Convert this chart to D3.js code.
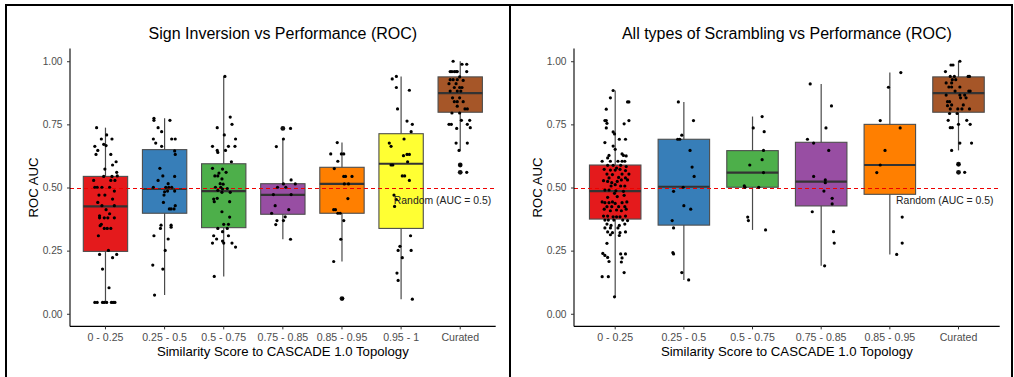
<!DOCTYPE html>
<html>
<head>
<meta charset="utf-8">
<script src="https://cdn.jsdelivr.net/npm/d3@7"></script>
<style>
  body { margin: 0; background: #fff; }
  svg { display: block; font-family: "Liberation Sans", Arial, sans-serif; }
</style>
</head>
<body>
<svg id="chart" width="1014" height="377"></svg>
<script>
// ---- data ----
const catColors = {
  '0 - 0.25': '#E41A1C', '0.25 - 0.5': '#377EB8', '0.5 - 0.75': '#4DAF4A',
  '0.75 - 0.85': '#984EA3', '0.85 - 0.95': '#FF7F00', '0.95 - 1': '#FFFF33', 'Curated': '#A65628'
};

// Sign inversion panel
const leftCats = ['0 - 0.25', '0.25 - 0.5', '0.5 - 0.75', '0.75 - 0.85', '0.85 - 0.95', '0.95 - 1', 'Curated'];
const leftQ1  = [0.247, 0.398, 0.341, 0.394, 0.398, 0.338, 0.798];
const leftMed = [0.425, 0.494, 0.486, 0.471, 0.514, 0.594, 0.874];
const leftQ3  = [0.544, 0.650, 0.594, 0.515, 0.580, 0.713, 0.938];
const leftLo  = [0.045, 0.074, 0.148, 0.295, 0.207, 0.058, 0.647];
const leftHi  = [0.737, 0.774, 0.940, 0.692, 0.678, 0.940, 1.000];
// jittered points: [offset in category units, ROC AUC]
const leftPoints = [
  [[-0.15,0.737],[0.02,0.708],[-0.07,0.692],[0.11,0.692],[-0.03,0.671],[0.01,0.666],[-0.18,0.663],[-0.13,0.647],[-0.16,0.631],[0.09,0.631],[0.18,0.602],[0.12,0.589],[-0.01,0.573],[0.19,0.560],[-0.03,0.544],[0.11,0.544],[0.20,0.546],[-0.20,0.528],[0.09,0.528],[0.16,0.528],[-0.18,0.501],[-0.14,0.501],[-0.06,0.501],[0.07,0.501],[0.15,0.486],[-0.11,0.470],[-0.01,0.470],[0.12,0.454],[-0.13,0.441],[-0.06,0.428],[0.15,0.428],[0.01,0.412],[0.07,0.396],[-0.10,0.388],[-0.10,0.380],[-0.02,0.380],[0.04,0.380],[0.15,0.380],[-0.07,0.354],[-0.09,0.349],[-0.02,0.338],[0.03,0.338],[0.09,0.338],[-0.12,0.309],[0.05,0.251],[-0.10,0.235],[0.19,0.235],[0.12,0.222],[-0.05,0.177],[0.06,0.103],[-0.18,0.045],[-0.14,0.045],[-0.05,0.045],[-0.02,0.045],[0.02,0.045],[0.10,0.045],[0.13,0.045],[0.16,0.045]],
  [[-0.18,0.774],[-0.18,0.766],[0.09,0.766],[-0.11,0.737],[-0.05,0.721],[-0.19,0.692],[-0.15,0.676],[-0.05,0.663],[0.12,0.692],[0.18,0.692],[0.17,0.645],[0.18,0.631],[-0.08,0.576],[-0.03,0.546],[0.17,0.544],[-0.11,0.528],[0.06,0.515],[-0.19,0.501],[0.02,0.501],[0.07,0.501],[0.12,0.501],[0.00,0.483],[0.05,0.486],[0.17,0.486],[-0.01,0.470],[-0.02,0.441],[0.08,0.415],[0.11,0.415],[0.16,0.415],[0.18,0.428],[-0.06,0.351],[-0.07,0.338],[0.11,0.351],[0.11,0.343],[-0.18,0.309],[0.06,0.296],[0.01,0.251],[-0.20,0.193],[-0.03,0.177],[-0.17,0.074]],
  [[0.02,0.940],[0.11,0.779],[0.14,0.750],[-0.11,0.737],[0.01,0.708],[0.20,0.692],[0.08,0.663],[0.19,0.663],[-0.19,0.663],[-0.11,0.647],[-0.10,0.639],[0.03,0.647],[0.13,0.602],[-0.19,0.576],[-0.02,0.573],[-0.08,0.557],[0.04,0.560],[-0.15,0.546],[-0.10,0.546],[-0.03,0.534],[-0.06,0.515],[-0.01,0.513],[-0.14,0.501],[-0.05,0.501],[-0.10,0.489],[-0.02,0.494],[0.06,0.496],[0.11,0.481],[-0.03,0.481],[-0.17,0.454],[-0.16,0.444],[-0.11,0.457],[0.10,0.444],[-0.03,0.404],[0.10,0.383],[0.00,0.354],[0.08,0.354],[-0.10,0.338],[0.06,0.338],[-0.02,0.325],[-0.17,0.309],[-0.12,0.296],[0.08,0.309],[-0.02,0.288],[0.00,0.280],[-0.19,0.280],[0.14,0.280],[0.20,0.264],[-0.16,0.148]],
  [[0.13,0.734],[0.01,0.692],[-0.11,0.662],[0.14,0.530],[0.21,0.514],[0.01,0.514],[-0.09,0.501],[0.05,0.501],[-0.16,0.472],[0.14,0.472],[-0.13,0.428],[0.10,0.412],[-0.19,0.398],[0.04,0.384],[-0.10,0.369],[0.01,0.369],[-0.12,0.353],[0.13,0.295]],
  [[-0.08,0.678],[-0.19,0.633],[-0.01,0.633],[0.03,0.633],[-0.07,0.604],[-0.13,0.575],[0.03,0.544],[0.06,0.544],[0.17,0.544],[0.04,0.514],[0.11,0.514],[0.10,0.456],[-0.14,0.412],[-0.11,0.412],[-0.07,0.398],[-0.03,0.398],[0.03,0.369],[-0.02,0.295],[-0.14,0.207],[0.01,0.060]],
  [[-0.15,0.930],[-0.08,0.940],[-0.08,0.896],[0.14,0.885],[-0.06,0.811],[0.10,0.763],[0.19,0.750],[0.17,0.721],[0.05,0.692],[-0.20,0.676],[-0.17,0.663],[0.10,0.631],[0.14,0.631],[0.04,0.626],[0.11,0.602],[-0.17,0.589],[-0.14,0.589],[0.02,0.546],[0.06,0.546],[0.14,0.528],[-0.12,0.470],[-0.08,0.452],[-0.11,0.425],[0.16,0.309],[-0.02,0.267],[-0.05,0.251],[0.02,0.222],[0.17,0.251],[-0.07,0.161],[-0.05,0.132],[0.19,0.058]],
  [[-0.12,1.000],[0.03,0.988],[0.11,0.988],[-0.17,0.959],[-0.14,0.959],[-0.10,0.959],[-0.07,0.959],[-0.05,0.959],[0.11,0.959],[-0.01,0.938],[-0.17,0.927],[-0.12,0.927],[-0.05,0.927],[0.05,0.924],[-0.19,0.911],[-0.07,0.911],[-0.01,0.896],[-0.10,0.896],[0.03,0.896],[-0.05,0.882],[0.01,0.882],[-0.17,0.882],[-0.13,0.855],[-0.01,0.855],[-0.05,0.840],[-0.10,0.840],[0.05,0.840],[-0.05,0.822],[0.08,0.811],[0.12,0.811],[-0.14,0.795],[-0.01,0.795],[0.16,0.766],[-0.19,0.750],[-0.15,0.750],[0.02,0.766],[0.12,0.750],[-0.06,0.734],[0.17,0.737],[-0.07,0.676],[0.12,0.676],[-0.02,0.647],[0.00,0.589],[0.11,0.560]]
];

// All types of scrambling panel
const rightCats = ['0 - 0.25', '0.25 - 0.5', '0.5 - 0.75', '0.75 - 0.85', '0.85 - 0.95', 'Curated'];
const rightQ1  = [0.375, 0.351, 0.501, 0.427, 0.473, 0.798];
const rightMed = [0.486, 0.503, 0.559, 0.523, 0.589, 0.874];
const rightQ3  = [0.589, 0.691, 0.646, 0.679, 0.750, 0.938];
const rightLo  = [0.067, 0.134, 0.332, 0.190, 0.235, 0.647];
const rightHi  = [0.884, 0.839, 0.781, 0.910, 0.955, 1.000];
const rightPoints = [
  [[-0.03,0.884],[-0.07,0.855],[0.18,0.839],[0.20,0.839],[-0.13,0.810],[-0.15,0.765],[-0.13,0.765],[-0.12,0.754],[0.13,0.752],[0.20,0.765],[-0.13,0.736],[-0.03,0.720],[-0.01,0.712],[0.06,0.691],[0.15,0.691],[-0.15,0.678],[-0.03,0.664],[0.00,0.651],[0.10,0.633],[0.12,0.627],[0.16,0.625],[-0.09,0.627],[-0.11,0.617],[-0.19,0.604],[-0.07,0.604],[0.04,0.604],[0.10,0.604],[0.14,0.604],[-0.11,0.588],[-0.03,0.588],[0.02,0.577],[0.08,0.588],[0.16,0.583],[-0.16,0.572],[-0.07,0.569],[0.00,0.569],[0.07,0.572],[0.15,0.567],[-0.12,0.553],[-0.04,0.551],[0.10,0.553],[0.20,0.553],[-0.09,0.538],[0.05,0.540],[0.15,0.538],[-0.17,0.527],[-0.11,0.524],[-0.05,0.519],[0.03,0.524],[0.09,0.530],[0.18,0.530],[-0.06,0.506],[0.00,0.511],[0.08,0.506],[0.14,0.506],[-0.15,0.490],[-0.09,0.490],[0.01,0.487],[0.12,0.485],[-0.01,0.477],[-0.11,0.461],[0.13,0.469],[0.03,0.464],[-0.19,0.443],[-0.15,0.440],[-0.09,0.440],[-0.04,0.443],[0.00,0.437],[0.10,0.440],[0.17,0.443],[-0.12,0.424],[-0.05,0.424],[0.05,0.424],[0.14,0.424],[-0.16,0.414],[-0.07,0.408],[0.02,0.411],[0.09,0.408],[0.16,0.414],[-0.17,0.387],[-0.11,0.387],[-0.03,0.384],[0.02,0.384],[0.07,0.384],[0.15,0.387],[-0.15,0.371],[-0.10,0.371],[-0.02,0.371],[0.11,0.371],[0.18,0.369],[-0.12,0.355],[-0.06,0.350],[0.06,0.350],[0.14,0.355],[-0.15,0.340],[-0.07,0.340],[0.04,0.340],[-0.11,0.324],[-0.04,0.321],[0.07,0.321],[0.15,0.324],[-0.07,0.313],[0.06,0.310],[-0.12,0.279],[-0.18,0.239],[-0.15,0.231],[-0.11,0.223],[-0.09,0.207],[0.08,0.237],[0.15,0.237],[0.10,0.221],[0.09,0.205],[-0.19,0.147],[-0.10,0.147],[0.13,0.163],[-0.01,0.067]],
  [[-0.08,0.839],[0.14,0.765],[-0.03,0.707],[-0.09,0.691],[-0.06,0.691],[0.09,0.647],[0.12,0.581],[0.15,0.544],[-0.01,0.501],[-0.15,0.485],[0.00,0.428],[0.10,0.414],[-0.17,0.369],[-0.15,0.340],[-0.16,0.242],[-0.15,0.237],[-0.03,0.163],[0.07,0.134]],
  [[0.14,0.781],[0.01,0.736],[0.17,0.721],[0.16,0.647],[0.14,0.610],[-0.04,0.589],[0.16,0.559],[-0.12,0.507],[-0.11,0.501],[0.09,0.501],[-0.07,0.383],[-0.06,0.369],[0.19,0.332]],
  [[-0.16,0.910],[0.15,0.823],[0.07,0.736],[-0.20,0.691],[-0.11,0.676],[0.11,0.647],[-0.11,0.544],[0.06,0.530],[0.06,0.519],[0.04,0.486],[0.16,0.457],[0.16,0.435],[-0.13,0.404],[0.18,0.325],[0.19,0.280],[0.05,0.190]],
  [[0.16,0.955],[-0.02,0.897],[-0.14,0.765],[0.15,0.736],[-0.07,0.647],[-0.14,0.589],[-0.19,0.559],[0.18,0.383],[0.18,0.280],[0.10,0.235]],
  [[0.02,1.000],[-0.11,0.985],[-0.08,0.985],[-0.19,0.959],[-0.12,0.940],[-0.06,0.940],[0.14,0.940],[0.16,0.940],[-0.09,0.927],[-0.04,0.927],[-0.18,0.914],[-0.10,0.914],[-0.14,0.898],[-0.10,0.898],[0.02,0.898],[-0.05,0.882],[0.15,0.882],[0.17,0.882],[-0.18,0.866],[0.02,0.866],[0.09,0.866],[-0.16,0.840],[-0.13,0.840],[0.03,0.855],[0.11,0.855],[-0.10,0.827],[0.07,0.827],[-0.16,0.824],[-0.12,0.811],[-0.01,0.811],[0.05,0.811],[0.16,0.811],[-0.13,0.793],[-0.02,0.793],[-0.15,0.766],[0.12,0.766],[0.00,0.750],[0.17,0.750],[-0.12,0.737],[-0.09,0.737],[0.02,0.676],[0.19,0.676],[-0.10,0.647],[0.00,0.592],[0.09,0.560]]
];

const yTicks = [0, 0.25, 0.5, 0.75, 1];
const randomLevel = 0.5;
const randomLabel = 'Random (AUC = 0.5)';

// ---- drawing ----
const svg = d3.select('#chart');

// panel frames
svg.append('rect').attr('x', 6).attr('y', 5).attr('width', 504).attr('height', 420)
  .attr('fill', 'none').attr('stroke', '#000').attr('stroke-width', 2);
svg.append('rect').attr('x', 510).attr('y', 5).attr('width', 502).attr('height', 420)
  .attr('fill', 'none').attr('stroke', '#000').attr('stroke-width', 2);

function drawPanel(p) {
  const g = svg.append('g');
  const top = 48.6, bottom = 326.4;

  const x = d3.scaleBand().domain(p.cats).range([p.x0, p.x1]).paddingInner(0).paddingOuter(0.1);
  const y = d3.scaleLinear().domain([-0.05, 1.05]).range([bottom, top]);
  const boxW = x.step() * 0.75;
  const cx = c => x(c) + x.bandwidth() / 2;

  const stats = p.cats.map((c, i) => ({
    cat: c, q1: p.q1[i], med: p.med[i], q3: p.q3[i], lo: p.lo[i], hi: p.hi[i], pts: p.points[i]
  }));

  // whiskers
  g.selectAll('.whisker').data(stats).enter().append('line')
    .attr('x1', d => cx(d.cat)).attr('x2', d => cx(d.cat))
    .attr('y1', d => y(d.lo)).attr('y2', d => y(d.hi))
    .attr('stroke', '#4a4a4a').attr('stroke-width', 1.2);

  // boxes
  g.selectAll('.box').data(stats).enter().append('rect')
    .attr('x', d => cx(d.cat) - boxW / 2).attr('width', boxW)
    .attr('y', d => y(d.q3)).attr('height', d => y(d.q1) - y(d.q3))
    .attr('fill', d => catColors[d.cat])
    .attr('stroke', '#4d4d4d').attr('stroke-width', 1.1);

  // medians
  g.selectAll('.median').data(stats).enter().append('line')
    .attr('x1', d => cx(d.cat) - boxW / 2).attr('x2', d => cx(d.cat) + boxW / 2)
    .attr('y1', d => y(d.med)).attr('y2', d => y(d.med))
    .attr('stroke', '#333').attr('stroke-width', 2.2);

  // outliers (boxplot's own, beyond whiskers)
  const outl = [];
  stats.forEach(d => d.pts.forEach(pt => {
    if (pt[1] > d.hi + 1e-6 || pt[1] < d.lo - 1e-6) outl.push({ cat: d.cat, v: pt[1] });
  }));
  g.selectAll('.outlier').data(outl).enter().append('circle')
    .attr('cx', d => cx(d.cat)).attr('cy', d => y(d.v)).attr('r', 2.4).attr('fill', '#111');

  // random reference line
  const yr = Math.round(y(randomLevel)) + 0.5;
  g.append('line')
    .attr('x1', p.x0).attr('x2', p.x1)
    .attr('y1', yr).attr('y2', yr)
    .style('stroke', '#ee0000').style('stroke-width', '1.2px').style('stroke-dasharray', '4 3');

  // jittered points
  const pts = [];
  stats.forEach(d => d.pts.forEach(pt => pts.push({ cat: d.cat, dx: pt[0], v: pt[1] })));
  g.selectAll('.pt').data(pts).enter().append('circle')
    .attr('cx', d => cx(d.cat) + d.dx * x.step())
    .attr('cy', d => y(d.v)).attr('r', 1.6).attr('fill', '#000');

  // annotation
  const xl = d3.scaleLinear().domain([0.4, p.cats.length + 0.6]).range([p.x0, p.x1]);
  g.append('text')
    .attr('x', xl(p.annX)).attr('y', y(p.annY) + 3.7)
    .attr('text-anchor', 'middle').attr('font-size', 10.4).attr('fill', '#222')
    .text(randomLabel);

  // axes
  const xAxis = g.append('g').attr('transform', `translate(0,${bottom})`)
    .call(d3.axisBottom(x).tickSize(3).tickPadding(4).tickSizeOuter(0));
  xAxis.select('.domain').attr('stroke', '#000').attr('stroke-width', 1.1)
    .attr('d', `M${p.x0},0H${p.x1}`);
  xAxis.selectAll('.tick line').attr('stroke', '#333');
  xAxis.selectAll('.tick text').attr('font-size', 10.6).attr('fill', '#4d4d4d');

  const yAxis = g.append('g').attr('transform', `translate(${p.x0},0)`)
    .call(d3.axisLeft(y).tickValues(yTicks).tickFormat(d3.format('.2f')).tickSize(3).tickPadding(4.5).tickSizeOuter(0));
  yAxis.select('.domain').attr('stroke', '#000').attr('stroke-width', 1.1)
    .attr('d', `M0,${top}V${bottom}`);
  yAxis.selectAll('.tick line').attr('stroke', '#333');
  yAxis.selectAll('.tick text').attr('font-size', 10.2).attr('fill', '#4d4d4d');

  // titles
  g.append('text').attr('x', (p.x0 + p.x1) / 2).attr('y', 39)
    .attr('text-anchor', 'middle').attr('font-size', 16).attr('fill', '#000').text(p.title);
  g.append('text').attr('x', (p.x0 + p.x1) / 2).attr('y', 356)
    .attr('text-anchor', 'middle').attr('font-size', 13.2).attr('fill', '#000')
    .text('Similarity Score to CASCADE 1.0 Topology');
  g.append('text')
    .attr('transform', `translate(${p.yLabX},${(top + bottom) / 2}) rotate(-90)`)
    .attr('text-anchor', 'middle').attr('font-size', 13.2).attr('fill', '#000').text('ROC AUC');
}

drawPanel({
  title: 'Sign Inversion vs Performance (ROC)',
  cats: leftCats, q1: leftQ1, med: leftMed, q3: leftQ3, lo: leftLo, hi: leftHi, points: leftPoints,
  x0: 70, x1: 495.7, yLabX: 37.5, annX: 6.7, annY: 0.45
});
drawPanel({
  title: 'All types of Scrambling vs Performance (ROC)',
  cats: rightCats, q1: rightQ1, med: rightMed, q3: rightQ3, lo: rightLo, hi: rightHi, points: rightPoints,
  x0: 574, x1: 999.7, yLabX: 541.5, annX: 5.8, annY: 0.45
});
</script>
</body>
</html>
